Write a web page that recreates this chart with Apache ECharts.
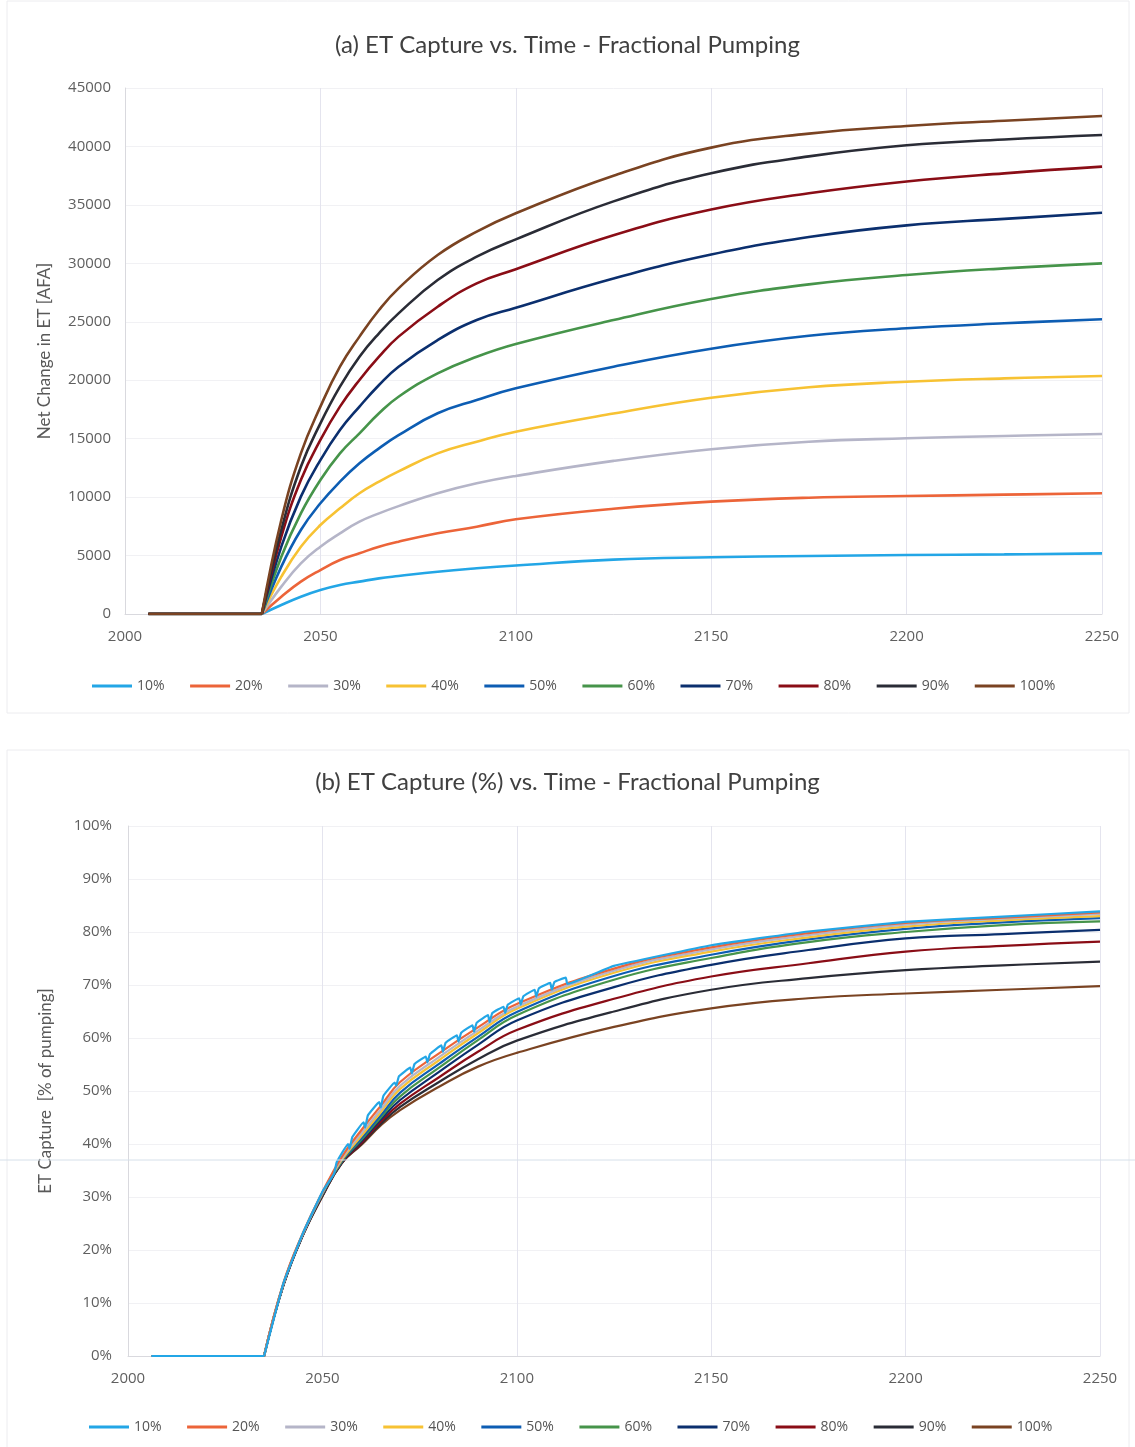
<!DOCTYPE html>
<html>
<head>
<meta charset="utf-8">
<title>ET Capture - Fractional Pumping</title>
<script src="https://cdn.jsdelivr.net/npm/echarts@6/dist/echarts.min.js"></script>
<style>
  html, body { margin: 0; padding: 0; background: #fff; }
  #main { width: 1135px; height: 1447px; }
</style>
</head>
<body>
<div id="main"></div>
<script>
// years sampled along both curves (flat at zero until pumping starts in 2035)
var years = [2006, 2035, 2040, 2045, 2050, 2055, 2060, 2065, 2070, 2080, 2090, 2100, 2125, 2150, 2175, 2200, 2225, 2250];
var names = ['10%', '20%', '30%', '40%', '50%', '60%', '70%', '80%', '90%', '100%'];
var colors = ['#23a6e6', '#ec6439', '#b5b5c8', '#f7c233', '#0d5db3', '#46944a', '#0b2f6e', '#8a0d16', '#2a2c36', '#7a4322'];

// (a) net change in ET [AFA]
var et10  = [0, 0, 770, 1480, 2050, 2480, 2770, 3050, 3250, 3620, 3910, 4150, 4650, 4850, 4960, 5050, 5100, 5190];
var et20  = [0, 0, 1480, 2770, 3760, 4620, 5190, 5760, 6190, 6900, 7470, 8100, 9000, 9610, 9950, 10090, 10210, 10330];
var et30  = [0, 0, 2340, 4330, 5760, 6900, 7900, 8610, 9230, 10330, 11180, 11810, 13100, 14100, 14740, 15030, 15230, 15400];
var et40  = [0, 0, 3190, 5760, 7610, 9040, 10330, 11320, 12200, 13740, 14740, 15600, 17150, 18500, 19400, 19870, 20160, 20360];
var et50  = [0, 0, 4050, 7190, 9470, 11320, 12890, 14170, 15300, 17170, 18310, 19310, 21160, 22700, 23800, 24440, 24870, 25210];
var et60  = [0, 0, 4900, 8610, 11460, 13740, 15460, 17170, 18590, 20590, 22010, 23100, 25150, 26950, 28200, 29000, 29570, 30000];
var et70  = [0, 0, 5760, 10040, 13170, 15740, 17740, 19590, 21160, 23440, 25150, 26200, 28700, 30750, 32250, 33250, 33800, 34330];
var et80  = [0, 0, 6610, 11460, 14890, 17740, 20020, 22010, 23730, 26290, 28290, 29500, 32400, 34600, 35990, 37000, 37700, 38270];
var et90  = [0, 0, 7190, 12600, 16310, 19450, 22010, 24010, 25720, 28570, 30570, 32050, 35300, 37700, 39150, 40100, 40600, 40980];
var et100 = [0, 0, 8040, 13740, 17740, 21160, 23730, 26010, 27860, 30710, 32710, 34280, 37500, 39900, 41100, 41750, 42200, 42600];

// (b) ET capture [% of pumping]
var cap10  = [0, 0, 13.8, 23.2, 31.0, 38.0, 43.2, 47.9, 52.5, 57.8, 62.6, 66.8, 73.6, 77.5, 80.1, 81.9, 82.9, 83.9];
var cap20  = [0, 0, 13.8, 23.2, 30.9, 37.6, 42.6, 47.2, 51.7, 57.1, 62.0, 66.4, 73.1, 77.1, 79.8, 81.7, 82.7, 83.7];
var cap30  = [0, 0, 13.7, 23.1, 30.8, 37.3, 42.0, 46.5, 51.0, 56.4, 61.4, 65.9, 72.7, 76.7, 79.4, 81.4, 82.5, 83.4];
var cap40  = [0, 0, 13.7, 23.1, 30.7, 37.0, 41.5, 46.0, 50.4, 55.8, 60.9, 65.5, 72.3, 76.3, 79.0, 81.0, 82.2, 83.0];
var cap50  = [0, 0, 13.6, 23.0, 30.6, 36.8, 41.1, 45.4, 49.7, 55.1, 60.2, 64.9, 71.7, 75.7, 78.6, 80.6, 81.8, 82.6];
var cap60  = [0, 0, 13.6, 23.0, 30.5, 36.7, 40.8, 45.0, 49.0, 54.4, 59.6, 64.3, 71.0, 75.1, 78.1, 80.0, 81.3, 82.0];
var cap70  = [0, 0, 13.5, 22.9, 30.4, 36.6, 40.5, 44.6, 48.3, 53.6, 58.7, 63.3, 69.6, 73.8, 76.6, 78.8, 79.6, 80.4];
var cap80  = [0, 0, 13.5, 22.9, 30.3, 36.5, 40.2, 44.2, 47.6, 52.6, 57.4, 61.5, 67.4, 71.6, 74.1, 76.3, 77.4, 78.2];
var cap90  = [0, 0, 13.4, 22.8, 30.2, 36.4, 40.0, 43.8, 47.0, 51.7, 56.0, 59.5, 65.0, 69.1, 71.3, 72.8, 73.7, 74.4];
var cap100 = [0, 0, 13.4, 22.8, 30.1, 36.4, 39.8, 43.5, 46.4, 50.8, 54.6, 57.2, 62.1, 65.6, 67.5, 68.4, 69.1, 69.8];

// saw-tooth wiggle of the 10% capture curve, 2053-2113
var teeth10Years = [2053, 2053.7, 2056.6, 2057, 2057.7, 2060.6, 2061, 2061.7, 2064.6, 2065, 2065.7, 2068.6,
                    2069, 2069.7, 2072.6, 2073, 2073.7, 2076.6, 2077, 2077.7, 2080.6, 2081, 2081.7, 2084.6,
                    2085, 2085.7, 2088.6, 2089, 2089.7, 2092.6, 2093, 2093.7, 2096.6, 2097, 2097.7, 2100.6,
                    2101, 2101.7, 2104.6, 2105, 2105.7, 2108.6, 2109, 2109.7, 2112.6, 2113];
var teeth10 = [34.4, 36.6, 40.0, 39.1, 41.3, 44.1, 43.1, 45.4, 47.9, 46.9, 49.1, 51.6,
               51.0, 52.8, 54.4, 53.3, 55.1, 56.5, 55.4, 57.0, 58.6, 57.4, 59.1, 60.5,
               59.3, 61.0, 62.4, 61.2, 62.9, 64.3, 63.0, 64.7, 65.9, 64.7, 66.3, 67.5,
               66.3, 67.9, 69.1, 67.8, 69.4, 70.4, 69.1, 70.6, 71.4, 70.2];

var etSets = [et10, et20, et30, et40, et50, et60, et70, et80, et90, et100];
var capSets = [cap10, cap20, cap30, cap40, cap50, cap60, cap70, cap80, cap90, cap100];

function pairs(xs, vals) {
  return xs.map(function (y, i) { return [y, vals[i]]; });
}

var font = 'Lato, "Open Sans", sans-serif';
var tickFont = '"Open Sans", Lato, sans-serif';
var labelStyle = { color: '#5f5f5f', fontSize: 15, fontFamily: tickFont };
var plain = function (v) { return String(v); };

function xAxisFor(idx) {
  return {
    type: 'value', gridIndex: idx, min: 2000, max: 2250, interval: 50,
    axisLine: { show: true, lineStyle: { color: '#d9d9de' } },
    axisTick: { show: false },
    axisLabel: Object.assign({ margin: 15, formatter: plain }, labelStyle),
    splitLine: { show: true, lineStyle: { color: '#e4e4ee' } }
  };
}

var series = [];
function addCurve(name, i, axis, xs, vals, width, z) {
  // flat stretch before 2035 drawn on its own so the rise keeps its sharp corner
  series.push({
    name: name + ' base', type: 'line', xAxisIndex: axis, yAxisIndex: axis,
    data: pairs(xs.slice(0, 2), vals.slice(0, 2)), showSymbol: false,
    lineStyle: { width: width, color: colors[i] }, itemStyle: { color: colors[i] }, z: z
  });
  var rise = pairs(xs.slice(1), vals.slice(1));
  var toothy = axis === 1 && i === 0;
  if (toothy) {
    rise = rise.filter(function (p) { return p[0] < 2053 || p[0] > 2113; })
               .concat(pairs(teeth10Years, teeth10))
               .sort(function (a, b) { return a[0] - b[0]; });
  }
  series.push({
    name: name, type: 'line', xAxisIndex: axis, yAxisIndex: axis,
    data: rise, showSymbol: false, smooth: toothy ? 0.1 : 0.45,
    lineStyle: { width: width, color: colors[i] }, itemStyle: { color: colors[i] }, z: z
  });
}
names.forEach(function (n, i) { addCurve(n, i, 0, years, etSets[i], 2.6, 2 + i); });
names.forEach(function (n, i) { addCurve(n, i, 1, years, capSets[i], 2.2, 12 - i); });

var legendBase = {
  data: names, icon: 'rect', itemWidth: 40, itemHeight: 3, itemGap: 25.5,
  padding: 0, selectedMode: false,
  textStyle: { color: '#555', fontSize: 14, fontFamily: tickFont, padding: [4, 0, 0, 0] }
};

var chart = echarts.init(document.getElementById('main'));
chart.setOption({
  backgroundColor: '#fff',
  animation: false,
  title: [
    { text: '(a) ET Capture vs. Time - Fractional Pumping', left: 'center', top: 28,
      textStyle: { color: '#404040', fontSize: 24, fontWeight: 'normal', fontFamily: font } },
    { text: '(b) ET Capture (%) vs. Time - Fractional Pumping', left: 'center', top: 765,
      textStyle: { color: '#404040', fontSize: 24, fontWeight: 'normal', fontFamily: font } }
  ],
  legend: [
    Object.assign({ left: 92, top: 679 }, legendBase),
    Object.assign({ left: 89, top: 1420 }, legendBase)
  ],
  grid: [
    { left: 125, right: 33, top: 88, height: 526 },
    { left: 128, right: 35, top: 826, height: 530 }
  ],
  xAxis: [xAxisFor(0), xAxisFor(1)],
  yAxis: [
    {
      type: 'value', gridIndex: 0, min: 0, max: 45000, interval: 5000,
      name: 'Net Change in ET [AFA]', nameLocation: 'middle', nameGap: 72,
      nameTextStyle: { color: '#595959', fontSize: 17, fontFamily: font },
      axisLine: { show: true, lineStyle: { color: '#d9d9de' } },
      axisTick: { show: false },
      axisLabel: Object.assign({ margin: 14, formatter: plain }, labelStyle),
      splitLine: { show: true, lineStyle: { color: '#f1f1f4' } }
    },
    {
      type: 'value', gridIndex: 1, min: 0, max: 100, interval: 10,
      name: 'ET Capture  [% of pumping]', nameLocation: 'middle', nameGap: 74,
      nameTextStyle: { color: '#595959', fontSize: 17, fontFamily: font },
      axisLine: { show: true, lineStyle: { color: '#d9d9de' } },
      axisTick: { show: false },
      axisLabel: Object.assign({ margin: 16, formatter: '{value}%' }, labelStyle),
      splitLine: { show: true, lineStyle: { color: '#f1f1f4' } }
    }
  ],
  graphic: [
    { type: 'rect', shape: { x: 7, y: 1, width: 1122, height: 712 }, silent: true,
      style: { fill: 'none', stroke: '#ececef', lineWidth: 1 } },
    { type: 'rect', shape: { x: 7, y: 750, width: 1122, height: 700 }, silent: true,
      style: { fill: 'none', stroke: '#ececef', lineWidth: 1 } },
    // faint scan line across the lower panel
    { type: 'line', shape: { x1: 0, y1: 1160, x2: 1135, y2: 1160 }, silent: true, z: 100,
      style: { stroke: '#d6e0ea', lineWidth: 1 } }
  ],
  series: series
});
</script>
</body>
</html>
